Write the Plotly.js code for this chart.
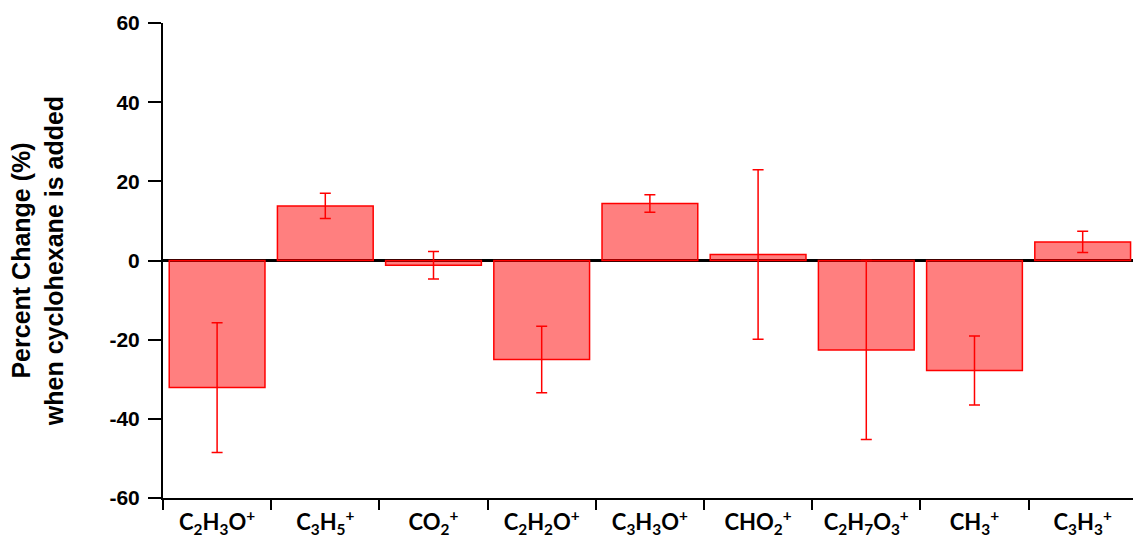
<!DOCTYPE html>
<html>
<head>
<meta charset="utf-8">
<script src="https://cdn.plot.ly/plotly-3.0.1.min.js"></script>
<style>html,body{margin:0;padding:0;background:#fff;}#chart{width:1133px;height:540px;}</style>
</head>
<body>
<div id="chart"></div>
<script>
var categories = [
  "C<sub>2</sub>H<sub>3</sub>O<sup>+</sup>",
  "C<sub>3</sub>H<sub>5</sub><sup>+</sup>",
  "CO<sub>2</sub><sup>+</sup>",
  "C<sub>2</sub>H<sub>2</sub>O<sup>+</sup>",
  "C<sub>3</sub>H<sub>3</sub>O<sup>+</sup>",
  "CHO<sub>2</sub><sup>+</sup>",
  "C<sub>2</sub>H<sub>7</sub>O<sub>3</sub><sup>+</sup>",
  "CH<sub>3</sub><sup>+</sup>",
  "C<sub>3</sub>H<sub>3</sub><sup>+</sup>"
];
var percentChange = [-32.1, 13.8, -1.2, -25.0, 14.4, 1.5, -22.6, -27.8, 4.7];
var errors = [16.4, 3.2, 3.5, 8.4, 2.2, 21.4, 22.6, 8.7, 2.7];
var yTicks = [-60, -40, -20, 0, 20, 40, 60];

var trace = {
  type: 'bar',
  x: categories,
  y: percentChange,
  marker: {color: 'rgba(255,0,0,0.5)', line: {color: '#ff0000', width: 1.5}},
  error_y: {type: 'data', array: errors, visible: true, color: '#ff0000', thickness: 1.5, width: 5.5},
  hoverinfo: 'x+y'
};

var layout = {
  width: 1133, height: 540,
  margin: {l: 163, r: 0, t: 23, b: 42},
  paper_bgcolor: '#fff', plot_bgcolor: '#fff',
  showlegend: false,
  bargap: 0.115,
  font: {family: 'Liberation Sans, Arial, sans-serif', color: '#000'},
  xaxis: {
    type: 'category',
    range: [-0.5, 8.465],
    tickson: 'boundaries',
    ticks: 'outside', ticklen: 10, tickwidth: 2, tickcolor: '#000',
    ticklabelstandoff: 4,
    showline: true, linewidth: 2, linecolor: '#000',
    showgrid: false, zeroline: false,
    tickfont: {family: 'Lato, Open Sans, sans-serif', size: 22, weight: 'bold', color: '#000'},
    automargin: false
  },
  yaxis: {
    range: [-60, 60],
    tickvals: yTicks,
    ticktext: yTicks.map(String),
    ticks: 'outside', ticklen: 13, tickwidth: 2, tickcolor: '#000',
    ticklabelstandoff: 4,
    showline: true, linewidth: 2, linecolor: '#000',
    showgrid: false,
    zeroline: true, zerolinecolor: '#000', zerolinewidth: 2.5,
    tickfont: {family: 'Liberation Sans, Arial, sans-serif', size: 21, weight: 'bold', color: '#000'},
    title: {text: 'Percent Change (%)<br>when cyclohexane is added', font: {family: 'Liberation Sans, Arial, sans-serif', size: 25, weight: 'bold', color: '#000'}, standoff: 39},
    automargin: false
  }
};

Plotly.newPlot('chart', [trace], layout, {displayModeBar: false, staticPlot: true});
</script>
</body>
</html>
